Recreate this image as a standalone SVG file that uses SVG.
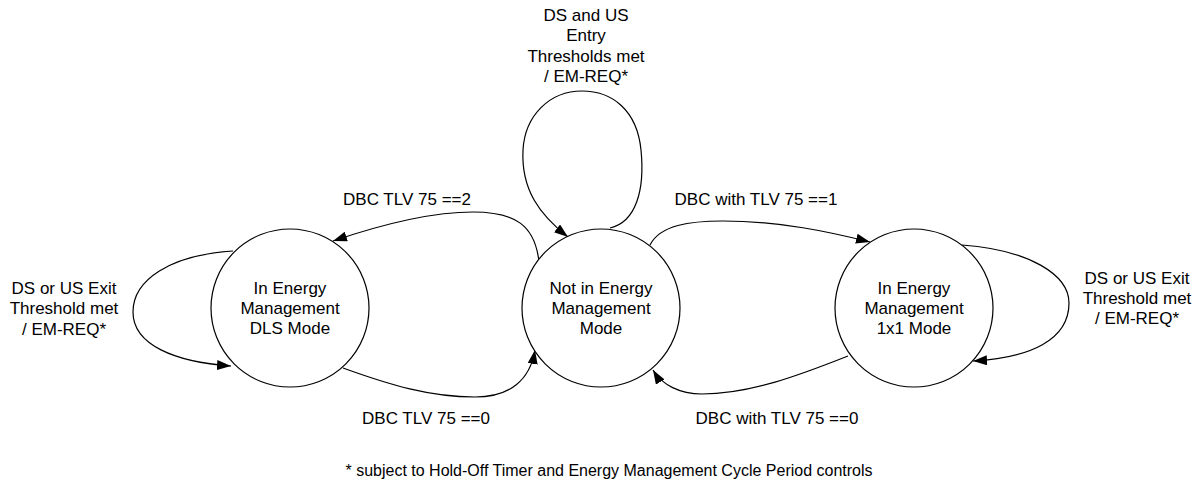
<svg xmlns="http://www.w3.org/2000/svg" width="1198" height="488" viewBox="0 0 1198 488">
<style>
text{font-family:"Liberation Sans",Arial,sans-serif;font-size:17px;fill:#000;text-anchor:middle}
.st{fill:#fff;stroke:#000;stroke-width:1.2}
.c{fill:none;stroke:#000;stroke-width:1.2}
.fn{font-size:16px}
</style>
<defs>
<marker id="arr" markerUnits="userSpaceOnUse" markerWidth="14" markerHeight="10" refX="14" refY="5" orient="auto">
<path d="M0,0 L14,5 L0,10 z" fill="#000"/>
</marker>
</defs>
<rect width="1198" height="488" fill="#fff"/>
<g id="connectors">
<path class="c" marker-end="url(#arr)" d="M610,228 C636,222 645,190 641,150 C637,110 612,91 582,91 C550,91 525,115 523,150 C521,190 540,215 568,237"/>
<path class="c" marker-end="url(#arr)" d="M539,262 C535,225 515,212 473,212 C430,212 380,225 333,241"/>
<path class="c" marker-end="url(#arr)" d="M650,245 C660,225 690,221 723,221 C780,221 830,232 870,242"/>
<path class="c" marker-end="url(#arr)" d="M343,368 C390,385 430,397 475,397 C510,397 530,380 535,350"/>
<path class="c" marker-end="url(#arr)" d="M848,356 C800,375 750,394 702,394 C680,394 662,385 653,370"/>
<path class="c" marker-end="url(#arr)" d="M233,251 C170,255 133,280 133,312 C133,345 175,362 231,366"/>
<path class="c" marker-end="url(#arr)" d="M962,245 C1030,250 1069,275 1069,303 C1069,340 1030,358 973,361"/>
</g>
<g id="labels">
<text x="586" y="21">DS and US</text>
<text x="586" y="41">Entry</text>
<text x="586" y="62">Thresholds met</text>
<text x="586" y="82">/ EM-REQ*</text>
<text x="407" y="205">DBC TLV 75 ==2</text>
<text x="756" y="205">DBC with TLV 75 ==1</text>
<text x="426" y="424">DBC TLV 75 ==0</text>
<text x="777" y="424">DBC with TLV 75 ==0</text>
<text x="64" y="294">DS or US Exit</text>
<text x="64" y="314">Threshold met</text>
<text x="64" y="335">/ EM-REQ*</text>
<text x="1137" y="284">DS or US Exit</text>
<text x="1137" y="304">Threshold met</text>
<text x="1137" y="324">/ EM-REQ*</text>
<text class="fn" x="609" y="476">* subject to Hold-Off Timer and Energy Management Cycle Period controls</text>
</g>
<g id="node-dls">
<circle class="st" cx="290" cy="308" r="79"/>
<text x="290" y="294">In Energy</text>
<text x="290" y="314">Management</text>
<text x="290" y="334">DLS Mode</text>
</g>
<g id="node-not">
<circle class="st" cx="601" cy="308" r="79"/>
<text x="601" y="294">Not in Energy</text>
<text x="601" y="314">Management</text>
<text x="601" y="334">Mode</text>
</g>
<g id="node-1x1">
<circle class="st" cx="914" cy="308" r="79"/>
<text x="914" y="294">In Energy</text>
<text x="914" y="314">Management</text>
<text x="914" y="334">1x1 Mode</text>
</g>
</svg>
